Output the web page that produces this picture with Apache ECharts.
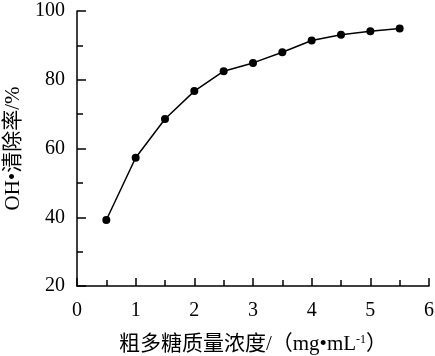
<!DOCTYPE html>
<html><head><meta charset="utf-8">
<script src="https://cdn.jsdelivr.net/npm/echarts@6/dist/echarts.min.js"></script>
<style>html,body{margin:0;padding:0;background:#fff}#c{width:435px;height:356px}</style>
</head><body><div id="c"></div>
<script>
const concentrations = [0.5, 1, 1.5, 2, 2.5, 3, 3.5, 4, 4.5, 5, 5.5];
const scavengingRate = [39.2, 57.3, 68.6, 76.7, 82.5, 84.9, 88.0, 91.4, 93.1, 94.1, 94.9];
const xTicks = [0, 1, 2, 3, 4, 5, 6];
const yTicks = [20, 40, 60, 80, 100];

const serif = '"Liberation Serif", "Times New Roman", "Noto Sans CJK SC", serif';
const chart = echarts.init(document.getElementById('c'), null, {renderer: 'canvas'});
chart.setOption({
  animation: false,
  backgroundColor: '#fff',
  grid: {left: 77, right: 6, top: 11, bottom: 70, containLabel: false, outerBoundsMode: 'none'},
  xAxis: {
    type: 'value', min: xTicks[0], max: xTicks[xTicks.length - 1], interval: 1,
    axisLine: {onZero: false, lineStyle: {color: '#000', width: 1.5}},
    axisTick: {inside: true, length: 8, lineStyle: {color: '#000', width: 1.5}},
    minorTick: {show: true, splitNumber: 2, length: 6, lineStyle: {color: '#000', width: 1.5}},
    splitLine: {show: false},
    axisLabel: {color: '#000', fontFamily: serif, fontSize: 20, margin: 15},
    name: '{a|粗多糖质量浓度/（mg•mL}{s|-1}{a|）}',
    nameLocation: 'middle', nameGap: 48,
    nameTextStyle: {
      rich: {
        a: {fontFamily: serif, fontSize: 21, color: '#000'},
        s: {fontFamily: serif, fontSize: 12, color: '#000', verticalAlign: 'top', padding: [0, 0, 9, 0]}
      }
    }
  },
  yAxis: {
    type: 'value', min: yTicks[0], max: yTicks[yTicks.length - 1], interval: 20,
    axisLine: {show: true, onZero: false, lineStyle: {color: '#000', width: 1.5}},
    axisTick: {show: true, inside: true, length: 9, lineStyle: {color: '#000', width: 1.5}},
    minorTick: {show: true, splitNumber: 2, length: 6, lineStyle: {color: '#000', width: 1.5}},
    splitLine: {show: false},
    axisLabel: {color: '#000', fontFamily: serif, fontSize: 20, margin: 12},
    name: 'OH•清除率/%',
    nameLocation: 'middle', nameGap: 52, nameRotate: 90,
    nameTextStyle: {fontFamily: serif, fontSize: 21, color: '#000'}
  },
  series: [{
    type: 'line',
    data: concentrations.map((x, i) => [x, scavengingRate[i]]),
    symbol: 'circle', symbolSize: 8,
    itemStyle: {color: '#000'},
    lineStyle: {color: '#000', width: 1.5}
  }]
});
</script></body></html>
